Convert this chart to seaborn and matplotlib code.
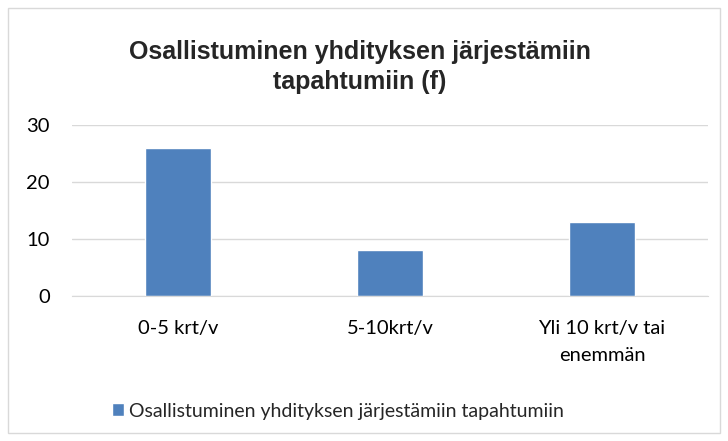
import pandas as pd
import matplotlib.pyplot as plt
import seaborn as sns
from matplotlib.patches import Rectangle

categories = ['0-5 krt/v', '5-10krt/v', 'Yli 10 krt/v tai\nenemmän']
values = [26, 8, 13]
series_name = 'Osallistuminen yhdityksen järjestämiin tapahtumiin'
title = 'Osallistuminen yhdityksen järjestämiin\ntapahtumiin (f)'
yticks = [0, 10, 20, 30]

df = pd.DataFrame({'kategoria': categories, 'f': values, 'sarja': series_name})

sns.set_style('white')
plt.rcParams['font.family'] = ['Lato', 'DejaVu Sans']

fig = plt.figure(figsize=(7.28, 4.41), dpi=100)
ax = fig.add_axes([72 / 728, 1 - 296 / 441, (708 - 72) / 728, (296 - 125) / 441])

sns.barplot(data=df, x='kategoria', y='f', hue='sarja', palette=['#4f81bd'],
            width=0.31, saturation=1, ax=ax, legend=True)

ax.set_ylim(0, 30)
ax.set_xlim(-0.5, 2.5)
ax.set_yticks(yticks)
ax.yaxis.grid(True, color='#d9d9d9', lw=1)
ax.set_axisbelow(True)
for s in ['top', 'right', 'left']:
    ax.spines[s].set_visible(False)
ax.spines['bottom'].set_color('#d9d9d9')
ax.tick_params(axis='both', length=0, labelsize=14.5, colors='black')
ax.tick_params(axis='x', pad=17)
ax.tick_params(axis='y', pad=16)
for lbl in ax.get_xticklabels():
    lbl.set_linespacing(1.75)
ax.set_xlabel('')
ax.set_ylabel('')

fig.text(360 / 728, 1 - 67 / 441, title, ha='center', va='center', fontsize=18,
         fontweight='bold', family='Liberation Sans', linespacing=1.3)

ax.legend(loc='center', bbox_to_anchor=(338 / 728, 1 - 411 / 441), bbox_transform=fig.transFigure,
          frameon=False, fontsize=14, handlelength=0.6, handleheight=0.6, handletextpad=0.25)

fig.patches.append(Rectangle((8 / 728, 8 / 441), 712 / 728, 425 / 441, transform=fig.transFigure,
                             fill=False, edgecolor='#d9d9d9', lw=1))

plt.savefig('out.png', dpi=100)
plt.close()
